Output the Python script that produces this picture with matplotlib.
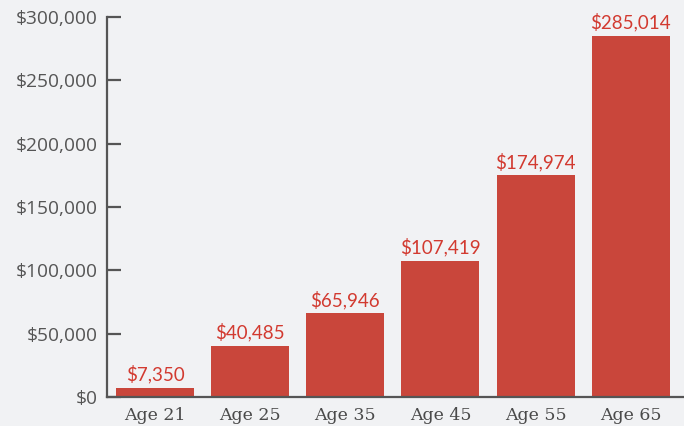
import matplotlib.pyplot as plt
from matplotlib.ticker import FuncFormatter

ages = ['Age 21', 'Age 25', 'Age 35', 'Age 45', 'Age 55', 'Age 65']
savings = [7350, 40485, 65946, 107419, 174974, 285014]
yticks = [0, 50000, 100000, 150000, 200000, 250000, 300000]

bg = '#f1f2f4'
bar_color = '#c9463b'
label_color = '#d23a30'
axis_color = '#555555'

fig = plt.figure(figsize=(6.84, 4.26), dpi=100, facecolor=bg)
ax = fig.add_axes([0.1564, 0.0681, 0.8436, 0.892], facecolor=bg)

x = list(range(len(ages)))
bars = ax.bar(x, savings, width=0.82, color=bar_color, zorder=2)

for xi, v in zip(x, savings):
    ax.text(xi, v + 3500, '${:,}'.format(v), ha='center', va='bottom',
            color=label_color, fontsize=13.5, family='Lato')

ax.set_xlim(-0.505, 5.56)
ax.set_ylim(0, 300000)
ax.set_yticks(yticks)
ax.yaxis.set_major_formatter(FuncFormatter(lambda v, p: '${:,.0f}'.format(v)))
ax.set_xticks(x)
ax.set_xticklabels(ages, family='DejaVu Serif', fontsize=12.5, color='#4a4a4a')

for s in ['top', 'right']:
    ax.spines[s].set_visible(False)
for s in ['left', 'bottom']:
    ax.spines[s].set_color(axis_color)
    ax.spines[s].set_linewidth(1.6)

ax.tick_params(axis='y', direction='in', length=10, width=1.6, color=axis_color,
               labelcolor=axis_color, labelsize=13.8, pad=7)
for lbl in ax.get_yticklabels():
    lbl.set_family('Open Sans')
ax.tick_params(axis='x', length=0, pad=7)

fig.savefig('out.png', dpi=100, facecolor=bg)
